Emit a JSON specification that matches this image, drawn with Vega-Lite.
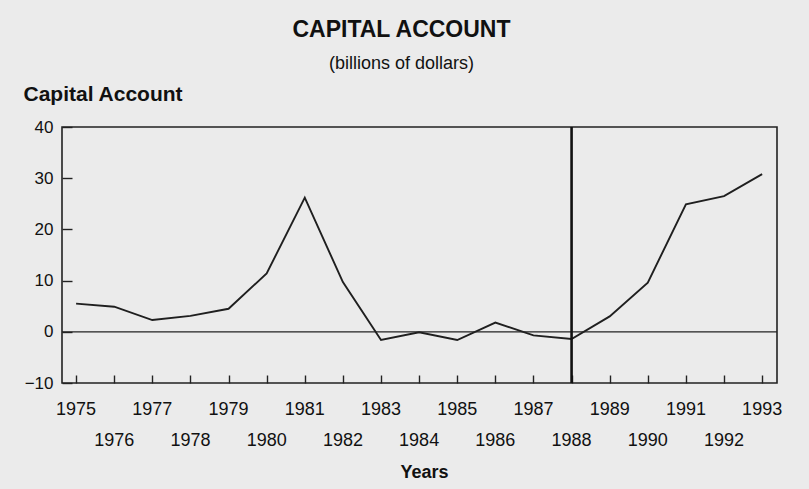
{
  "$schema": "https://vega.github.io/schema/vega-lite/v6.json",
  "width": 715,
  "height": 256,
  "autosize": "none",
  "padding": {"left": 62, "top": 127, "right": 32, "bottom": 106},
  "background": "#ebebeb",
  "title": {
    "text": "CAPITAL ACCOUNT",
    "subtitle": "(billions of dollars)",
    "anchor": "middle",
    "frame": "group",
    "dx": -18,
    "offset": 10,
    "font": "Liberation Sans",
    "fontSize": 23,
    "fontWeight": "bold",
    "color": "#111111",
    "subtitleFont": "Liberation Sans",
    "subtitleFontSize": 18,
    "subtitleColor": "#111111",
    "subtitlePadding": 13
  },
  "config": {
    "view": {"stroke": "#222222", "strokeWidth": 1.6},
    "axis": {"grid": false, "domain": false, "tickColor": "#222222", "tickWidth": 1.4, "labelColor": "#111111", "labelFont": "Liberation Sans", "titleFont": "Liberation Sans", "titleColor": "#111111"}
  },
  "datasets": {
    "series": [
      {"year": 1975, "value": 5.5},
      {"year": 1976, "value": 4.9},
      {"year": 1977, "value": 2.3},
      {"year": 1978, "value": 3.1},
      {"year": 1979, "value": 4.5},
      {"year": 1980, "value": 11.4},
      {"year": 1981, "value": 26.2},
      {"year": 1982, "value": 9.7},
      {"year": 1983, "value": -1.6},
      {"year": 1984, "value": -0.1},
      {"year": 1985, "value": -1.6},
      {"year": 1986, "value": 1.8},
      {"year": 1987, "value": -0.7},
      {"year": 1988, "value": -1.4},
      {"year": 1989, "value": 3.0},
      {"year": 1990, "value": 9.6},
      {"year": 1991, "value": 24.9},
      {"year": 1992, "value": 26.5},
      {"year": 1993, "value": 30.8}
    ],
    "zero": [{"value": 0}],
    "marker": [{"year": 1988}]
  },
  "layer": [
    {
      "data": {"name": "series"},
      "mark": {"type": "line", "color": "#1f1f1f", "strokeWidth": 1.9},
      "encoding": {
        "x": {
          "field": "year",
          "type": "quantitative",
          "scale": {"domain": [1974.63, 1993.39], "nice": false, "zero": false},
          "axis": {
            "values": [1975, 1976, 1977, 1978, 1979, 1980, 1981, 1982, 1983, 1984, 1985, 1986, 1987, 1988, 1989, 1990, 1991, 1992, 1993],
            "tickCount": 19,
            "tickSize": -8,
            "labels": false,
            "title": "Years",
            "titleFontSize": 18,
            "titleFontWeight": "bold",
            "titleAlign": "center",
            "titleBaseline": "alphabetic",
            "titleX": 362,
            "titleY": 94
          }
        },
        "y": {
          "field": "value",
          "type": "quantitative",
          "scale": {"domain": [-10, 40], "nice": false, "zero": false},
          "axis": {
            "values": [-10, -5, 0, 5, 10, 15, 20, 25, 30, 35, 40],
            "labelExpr": "datum.value % 10 == 0 ? datum.label : ''",
            "tickSize": -10,
            "labelFontSize": 17,
            "labelPadding": 19,
            "title": "Capital Account",
            "titleAngle": 0,
            "titleAlign": "left",
            "titleBaseline": "alphabetic",
            "titleX": -39,
            "titleY": -27,
            "titleFontSize": 21,
            "titleFontWeight": "bold"
          }
        }
      }
    },
    {
      "data": {"name": "zero"},
      "mark": {"type": "rule", "color": "#222222", "strokeWidth": 1.3},
      "encoding": {"y": {"field": "value", "type": "quantitative"}}
    },
    {
      "data": {"name": "marker"},
      "mark": {"type": "rule", "color": "#111111", "strokeWidth": 2.6},
      "encoding": {"x": {"field": "year", "type": "quantitative"}}
    },
    {
      "data": {"name": "series"},
      "transform": [{"filter": {"field": "year", "oneOf": [1975, 1977, 1979, 1981, 1983, 1985, 1987, 1989, 1991, 1993]}}],
      "mark": {"type": "text", "font": "Liberation Sans", "fontSize": 18, "color": "#111111", "baseline": "top", "align": "center", "dy": 18},
      "encoding": {
        "x": {"field": "year", "type": "quantitative"},
        "y": {"datum": -10},
        "text": {"field": "year", "type": "nominal"}
      }
    },
    {
      "data": {"name": "series"},
      "transform": [{"filter": {"field": "year", "oneOf": [1976, 1978, 1980, 1982, 1984, 1986, 1988, 1990, 1992]}}],
      "mark": {"type": "text", "font": "Liberation Sans", "fontSize": 18, "color": "#111111", "baseline": "top", "align": "center", "dy": 49},
      "encoding": {
        "x": {"field": "year", "type": "quantitative"},
        "y": {"datum": -10},
        "text": {"field": "year", "type": "nominal"}
      }
    }
  ]
}
